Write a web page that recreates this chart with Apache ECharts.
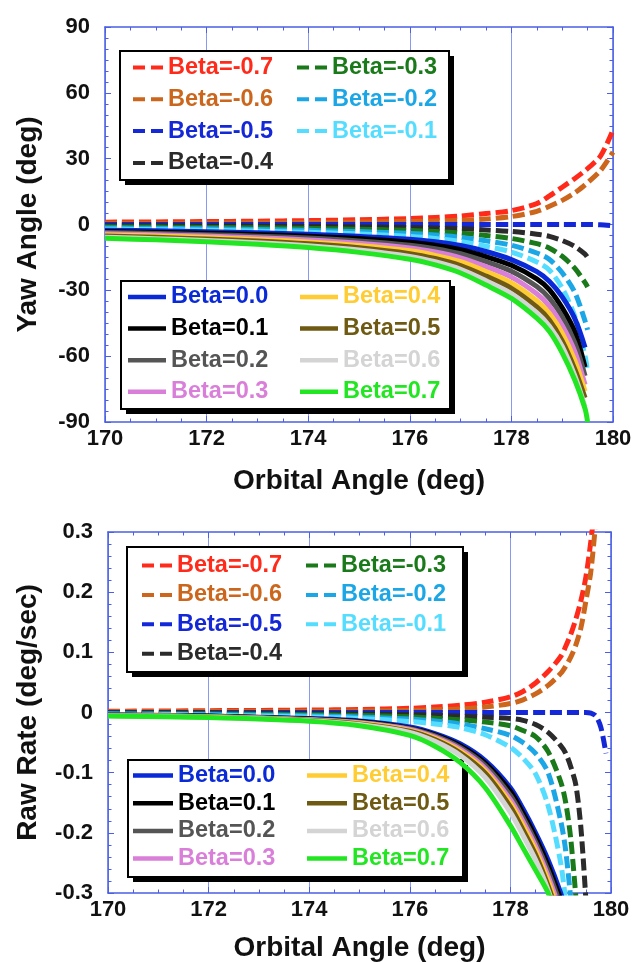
<!DOCTYPE html>
<html>
<head>
<meta charset="utf-8">
<title>Yaw angle and yaw rate near noon turn</title>
<script src="https://cdn.jsdelivr.net/npm/echarts@6/dist/echarts.min.js"></script>
<style>
  html, body { margin: 0; padding: 0; background: #ffffff; }
  #chart { width: 632px; height: 962px; }
</style>
</head>
<body>
<div id="chart"></div>
<script>
// ---- Yaw angle (deg) vs orbital angle (deg) ----
const yawX = [170, 171, 172, 173, 174, 175, 176, 176.5, 177, 177.5, 178, 178.5, 178.75, 179, 179.25, 179.45, 179.5, 179.75, 180];
const yawM07 = [1.06, 1.18, 1.33, 1.52, 1.78, 2.15, 2.71, 3.19, 3.89, 4.98, 6.35, 9.5, 13.0, 17.0, 21.0, 24.5, 25.5, 31.0, 43.0];
const yawM06 = [0.53, 0.59, 0.66, 0.76, 0.89, 1.08, 1.36, 1.6, 1.95, 2.49, 3.6, 6.0, 8.3, 11.0, 14.5, 18.0, 19.0, 24.5, 33.0];
const yawM05 = [0, 0, 0, 0, 0, 0, 0, 0, 0, 0, 0, 0, 0, 0, 0, 0, 0, -0.1, -0.6];
const yawM04 = [-0.53, -0.59, -0.66, -0.76, -0.89, -1.08, -1.36, -1.6, -1.95, -2.49, -3.18, -4.4, -5.44, -7.3, -10.0, -13.5, -15.0];
const yawM03 = [-1.06, -1.18, -1.33, -1.52, -1.78, -2.15, -2.71, -3.19, -3.89, -4.98, -6.35, -8.74, -10.78, -14.5, -20.0, -26.5, -28.5];
const yawM02 = [-1.59, -1.76, -1.99, -2.28, -2.67, -3.22, -4.06, -4.78, -5.82, -7.44, -9.47, -12.99, -15.95, -22.0, -31.0, -44.0, -48.0];
const yawM01 = [-2.11, -2.35, -2.65, -3.04, -3.56, -4.29, -5.41, -6.36, -7.73, -9.88, -12.54, -17.1, -20.86, -29.0, -42.0, -60.0, -67.0];
const yawP00 = [-2.6, -2.9, -3.3, -3.8, -4.4, -5.4, -6.7, -7.9, -9.6, -12.3, -16.0, -21.5, -26.0, -33.0, -43.0, -56.0];
const yawP01 = [-3.17, -3.52, -3.97, -4.55, -5.32, -6.42, -8.08, -9.49, -11.5, -14.64, -18.6, -24.77, -29.75, -38.0, -49.0, -65.0];
const yawP02 = [-3.7, -4.11, -4.63, -5.3, -6.2, -7.48, -9.4, -11.0, -13.35, -16.95, -21.27, -28.29, -33.69, -42.0, -54.0, -69.0];
const yawP03 = [-4.22, -4.69, -5.29, -6.05, -7.08, -8.53, -10.7, -12.55, -15.17, -19.2, -23.98, -31.6, -37.3, -46.0, -58.0, -73.0];
const yawP04 = [-4.75, -5.28, -5.94, -6.8, -7.95, -9.57, -12.0, -14.05, -16.95, -21.4, -26.58, -34.68, -40.61, -49.5, -62.0, -76.0];
const yawP05 = [-5.27, -5.86, -6.6, -7.55, -8.82, -10.6, -13.27, -15.52, -18.7, -23.53, -29.07, -37.56, -43.61, -53.0, -66.0, -79.0];
const yawP06 = [-5.79, -6.44, -7.25, -8.29, -9.68, -11.63, -14.53, -16.97, -20.4, -25.59, -31.45, -40.22, -46.33, -55.5, -69.0, -83.0];
const yawP07 = [-6.3, -7.0, -7.9, -9.0, -10.5, -12.7, -15.8, -18.4, -22.1, -27.6, -33.7, -42.7, -48.8, -58.5, -71.0, -84.0, -90.0];

// ---- Raw yaw rate (deg/sec) vs orbital angle (deg) ----
const rateX = [170, 172, 174, 175, 176, 176.5, 177, 177.5, 178, 178.25, 178.5, 178.75, 179, 179.1, 179.2, 179.3, 179.4, 179.5, 179.6, 179.7, 179.8, 179.9];
const rateM07 = [0.002, 0.003, 0.004, 0.005, 0.007, 0.009, 0.012, 0.017, 0.026, 0.035, 0.049, 0.068, 0.093, 0.11, 0.13, 0.155, 0.185, 0.225, 0.285, 0.36];
const rateM06 = [0.001, 0.0015, 0.002, 0.0025, 0.0035, 0.0045, 0.006, 0.009, 0.015, 0.021, 0.031, 0.045, 0.065, 0.077, 0.092, 0.112, 0.14, 0.185, 0.235, 0.32];
const rateM05 = [0, 0, 0, 0, 0, 0, 0, 0, 0, 0, 0, 0, 0, 0, 0, 0, 0, 0, -0.001, -0.006, -0.025, -0.068];
const rateM04 = [-0.0008, -0.001, -0.0017, -0.0024, -0.0035, -0.0045, -0.006, -0.0078, -0.01, -0.013, -0.02, -0.033, -0.055, -0.068, -0.09, -0.12, -0.19, -0.31];
const rateM03 = [-0.0015, -0.0022, -0.0036, -0.005, -0.0072, -0.0095, -0.012, -0.016, -0.022, -0.03, -0.04, -0.065, -0.115, -0.15, -0.21, -0.305];
const rateM02 = [-0.0025, -0.0035, -0.0055, -0.0075, -0.011, -0.014, -0.019, -0.027, -0.038, -0.05, -0.068, -0.1, -0.18, -0.23, -0.31];
const rateM01 = [-0.003, -0.0045, -0.0075, -0.01, -0.015, -0.019, -0.025, -0.037, -0.058, -0.076, -0.102, -0.155, -0.25, -0.315];
const rateP00 = [-0.004, -0.006, -0.010, -0.014, -0.024, -0.035, -0.052, -0.08, -0.125, -0.16, -0.2, -0.245, -0.3, -0.33];
const rateP01 = [-0.004, -0.006, -0.011, -0.015, -0.026, -0.037, -0.055, -0.084, -0.131, -0.167, -0.207, -0.254, -0.31];
const rateP02 = [-0.0045, -0.0065, -0.0115, -0.016, -0.027, -0.039, -0.058, -0.088, -0.138, -0.174, -0.215, -0.263, -0.32];
const rateP03 = [-0.0045, -0.007, -0.012, -0.017, -0.028, -0.041, -0.061, -0.093, -0.145, -0.181, -0.222, -0.272, -0.33];
const rateP04 = [-0.005, -0.007, -0.0125, -0.018, -0.03, -0.043, -0.064, -0.097, -0.151, -0.188, -0.229, -0.28, -0.34];
const rateP05 = [-0.005, -0.0075, -0.013, -0.019, -0.031, -0.045, -0.067, -0.101, -0.157, -0.195, -0.236, -0.288, -0.35];
const rateP06 = [-0.0055, -0.0078, -0.0135, -0.02, -0.033, -0.048, -0.071, -0.108, -0.166, -0.204, -0.245, -0.295, -0.36];
const rateP07 = [-0.006, -0.0085, -0.0145, -0.022, -0.038, -0.056, -0.083, -0.125, -0.188, -0.225, -0.262, -0.3, -0.36];

// ---- Series labels and styling ----
const betaNames = ['Beta=-0.7', 'Beta=-0.6', 'Beta=-0.5', 'Beta=-0.4', 'Beta=-0.3', 'Beta=-0.2', 'Beta=-0.1',
                   'Beta=0.0', 'Beta=0.1', 'Beta=0.2', 'Beta=0.3', 'Beta=0.4', 'Beta=0.5', 'Beta=0.6', 'Beta=0.7'];
const betaColors = ['#ff2a1a', '#cc661c', '#1428d8', '#2b2b2b', '#1a7a1a', '#1ba6e6', '#55ddff',
                    '#0a2ad8', '#000000', '#555555', '#d97fd9', '#ffcc33', '#6e5a12', '#d4d4d4', '#22e622'];
const yawSets = [yawM07, yawM06, yawM05, yawM04, yawM03, yawM02, yawM01,
                 yawP00, yawP01, yawP02, yawP03, yawP04, yawP05, yawP06, yawP07];
const rateSets = [rateM07, rateM06, rateM05, rateM04, rateM03, rateM02, rateM01,
                  rateP00, rateP01, rateP02, rateP03, rateP04, rateP05, rateP06, rateP07];
const xTicks = { min: 170, max: 180, interval: 2 };
const yawTicks = { min: -90, max: 90, interval: 30 };
const rateTicks = { min: -0.3, max: 0.3, interval: 0.1 };

const FONT = '"Liberation Sans", Arial, Helvetica, sans-serif';
const FRAME = '#4a5fe4';
const GRIDLINE = '#8799f0';
const INK = '#111111';
const DASH_ICON = 'path://M0 0H12V4H0Z M18 0H30V4H18Z';

function toPairs(xs, ys) {
  return ys.map((y, i) => [xs[i], y]);
}

function buildSeries(sets, xs, axisIndex) {
  return sets.map((ys, i) => ({
    type: 'line',
    name: betaNames[i],
    xAxisIndex: axisIndex,
    yAxisIndex: axisIndex,
    data: toPairs(xs, ys),
    symbol: 'none',
    showSymbol: false,
    smooth: 0.3,
    clip: true,
    silent: true,
    animation: false,
    itemStyle: { color: betaColors[i] },
    lineStyle: { color: betaColors[i], width: 5, type: i < 7 ? [12, 5] : 'solid', cap: 'butt', join: 'round' },
    emphasis: { disabled: true }
  }));
}

const tickLabel = { show: true, color: INK, fontFamily: FONT, fontWeight: 'bold', fontSize: 22 };
const nameStyle = { color: INK, fontFamily: FONT, fontWeight: 'bold', fontSize: 28 };

function xAxesFor(gridIndex, nameGap) {
  const common = {
    type: 'value', gridIndex, min: xTicks.min, max: xTicks.max, interval: xTicks.interval,
    axisLine: { show: true, onZero: false, lineStyle: { color: FRAME, width: 1.5 } },
    axisTick: { show: true, inside: true, length: 6, lineStyle: { color: FRAME, width: 1 } },
    minorTick: { show: true, splitNumber: 4, length: 3.5, lineStyle: { color: FRAME, width: 1 } },
    minorSplitLine: { show: false }
  };
  return [
    Object.assign({}, common, {
      position: 'bottom',
      axisLabel: Object.assign({}, tickLabel, { margin: 6, showMinLabel: true, showMaxLabel: true }),
      splitLine: { show: true, lineStyle: { color: GRIDLINE, width: 1 } },
      name: 'Orbital Angle (deg)', nameLocation: 'middle', nameGap, nameTextStyle: nameStyle,
      nameMoveOverlap: false
    }),
    Object.assign({}, common, {
      position: 'top', axisLabel: { show: false }, splitLine: { show: false }
    })
  ];
}

function yAxesFor(gridIndex, ticks, minorSplit, title, nameGap) {
  const common = {
    type: 'value', gridIndex, min: ticks.min, max: ticks.max, interval: ticks.interval,
    axisLine: { show: true, onZero: false, lineStyle: { color: FRAME, width: 1.5 } },
    axisTick: { show: true, inside: true, length: 6, lineStyle: { color: FRAME, width: 1 } },
    minorTick: { show: true, splitNumber: minorSplit, length: 3.5, lineStyle: { color: FRAME, width: 1 } },
    minorSplitLine: { show: false },
    splitLine: { show: false }
  };
  return [
    Object.assign({}, common, {
      position: 'left',
      axisLabel: Object.assign({}, tickLabel, { margin: 15, padding: [0, 0, 12, 0], showMinLabel: true, showMaxLabel: true }),
      name: title, nameLocation: 'middle', nameRotate: 90, nameGap, nameTextStyle: nameStyle,
      nameMoveOverlap: false
    }),
    Object.assign({}, common, { position: 'right', axisLabel: { show: false } })
  ];
}

function legendItems(from, to) {
  const out = [];
  for (let i = from; i <= to; i++) {
    out.push({ name: betaNames[i], textStyle: { color: betaColors[i] } });
  }
  return out;
}

function legendText(width) {
  return { fontFamily: FONT, fontWeight: 'bold', fontSize: 23.5, lineHeight: 23, width };
}

function legendColumn(items, opts) {
  return Object.assign({
    orient: 'vertical', selectedMode: false, itemWidth: 30, itemHeight: 4, icon: DASH_ICON,
    padding: 0, z: 6
  }, opts, { data: items });
}

const legends = [
  // yaw panel, dashed entries
  legendColumn(legendItems(0, 3), { left: 133, top: 55.5, itemGap: 7.8, textStyle: legendText(110) }),
  legendColumn(legendItems(4, 6), { left: 297, top: 55.5, itemGap: 7.8, textStyle: legendText(110) }),
  // yaw panel, solid entries
  legendColumn(legendItems(7, 10), { left: 128, top: 285, itemGap: 7.6, itemWidth: 38, itemHeight: 4.5, icon: 'rect', textStyle: legendText(100) }),
  legendColumn(legendItems(11, 14), { left: 300, top: 285, itemGap: 7.6, itemWidth: 38, itemHeight: 4.5, icon: 'rect', textStyle: legendText(100) }),
  // rate panel, dashed entries
  legendColumn(legendItems(0, 3), { left: 142, top: 553.5, itemGap: 5.4, textStyle: legendText(110) }),
  legendColumn(legendItems(4, 6), { left: 306, top: 553.5, itemGap: 5.4, textStyle: legendText(110) }),
  // rate panel, solid entries
  legendColumn(legendItems(7, 10), { left: 133, top: 763.5, itemGap: 3.7, itemWidth: 40, itemHeight: 4.5, icon: 'rect', textStyle: legendText(100) }),
  legendColumn(legendItems(11, 14), { left: 307, top: 763.5, itemGap: 3.7, itemWidth: 40, itemHeight: 4.5, icon: 'rect', textStyle: legendText(100) })
];

// White legend frames with a solid drop shadow: [left, top, width, height]
const legendFrames = [[120, 51, 329, 129], [121, 281, 329, 128], [127, 547, 336, 125], [128, 760, 335, 117]];
const SHADOW = 5;
const frameGraphics = [];
legendFrames.forEach(([x, y, w, h]) => {
  frameGraphics.push({ type: 'rect', z: 3, silent: true,
    shape: { x: x + SHADOW, y: y + SHADOW, width: w, height: h }, style: { fill: '#000000' } });
  frameGraphics.push({ type: 'rect', z: 3, silent: true,
    shape: { x, y, width: w, height: h }, style: { fill: '#ffffff', stroke: '#000000', lineWidth: 2 } });
});

const chart = echarts.init(document.getElementById('chart'), null, { renderer: 'canvas' });
chart.setOption({
  animation: false,
  backgroundColor: '#ffffff',
  grid: [
    { left: 105, top: 27, width: 508, height: 395, show: false, containLabel: false, outerBoundsMode: 'none' },
    { left: 108, top: 532, width: 503, height: 361, show: false, containLabel: false, outerBoundsMode: 'none' }
  ],
  xAxis: xAxesFor(0, 45).concat(xAxesFor(1, 41)),
  yAxis: yAxesFor(0, yawTicks, 6, 'Yaw Angle (deg)', 63).concat(yAxesFor(1, rateTicks, 5, 'Raw Rate (deg/sec)', 66)),
  legend: legends,
  graphic: { elements: frameGraphics },
  series: buildSeries(yawSets, yawX, 0).concat(buildSeries(rateSets, rateX, 2))
});
</script>
</body>
</html>
